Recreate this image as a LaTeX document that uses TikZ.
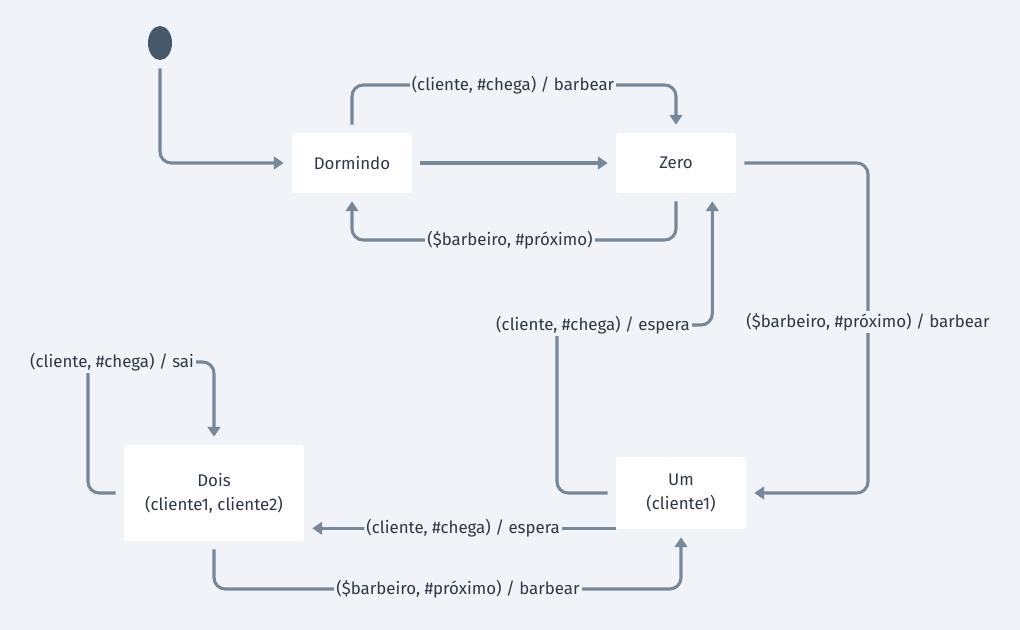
\documentclass[tikz,border=0pt]{standalone}
\usepackage{fontspec}
\setmainfont{Fira Sans}
\usetikzlibrary{shapes.geometric}
\usetikzlibrary{positioning}
\usetikzlibrary{arrows.meta}
\usepackage{xcolor}
\definecolor{bg}{HTML}{F0F4F8}
\definecolor{edge}{HTML}{778899}
\definecolor{ink}{HTML}{2D3748}
\definecolor{startfill}{HTML}{465768}

\tikzset{
  state/.style={rectangle, rounded corners=2pt, fill=white, align=center, text=ink, inner sep=0pt, font=\fontsize{12}{17}\selectfont},
  trans/.style={draw=edge, line width=2.2pt, rounded corners=8pt, shorten <=5.7pt, shorten >=5.7pt, -{Triangle[width=9pt,length=7pt]}},
  lbl/.style={fill=bg, text=ink, inner sep=1.5pt, font=\fontsize{12}{14}\selectfont}
}

\begin{document}
\begin{tikzpicture}[x=0.025cm, y=-0.025cm]
            \fill[bg] (0,0) rectangle (1020,630);
            \useasboundingbox (0,0) rectangle (1020,630);

            \node[ellipse, fill=startfill, inner sep=0pt, minimum width=0.6cm, minimum height=0.85cm] (init) at (160,43) {};
            \node[state, minimum width=3cm, minimum height=1.5cm] (dorm) at (352,163) {Dormindo};
            \node[state, minimum width=3cm, minimum height=1.5cm] (zero) at (676,163) {Zero};
            \node[state, minimum width=4.5cm, minimum height=2.4cm] (dois) at (214,493) {Dois\\(cliente1, cliente2)};
            \node[state, minimum width=3.25cm, minimum height=1.8cm] (um) at (681,493) {Um\\(cliente1)};

            % label points
            \coordinate (t1) at (513,85);
            \coordinate (t2) at (510,240);
            \coordinate (t3) at (868,322);
            \coordinate (t4) at (593,325);
            \coordinate (t5) at (112,362);
            \coordinate (t7) at (458,589);

            \draw[trans] (init.south) |- (dorm.west);
            \draw[trans] (dorm) -- (zero);
            \draw[trans] (dorm.north) |- (t1) -| (zero.north);
            \draw[trans] (zero.south) |- (t2) -| (dorm.south);
            \draw[trans] (zero.east) -| (t3) |- (um.east);
            \draw[trans] (um.west) -| (557,325) -| ([shift={(-24,0)}]zero.south east);
            \draw[trans, shorten <=0pt] ([shift={(0,-1)}]um.south west) -- node[lbl, pos=0.49] {(cliente, \#chega) / espera} ([shift={(0,-1)}]um.south west -| dois.east);
            \draw[trans] (dois.south) |- (t7) -| (um.south);
            \draw[trans] (dois.west) -| (88,362) -| (dois.north);

            \node[lbl] at (t1) {(cliente, \#chega) / barbear};
            \node[lbl] at (t2) {(\$barbeiro, \#próximo)};
            \node[lbl] at (t3) {(\$barbeiro, \#próximo) / barbear};
            \node[lbl] at (t4) {(cliente, \#chega) / espera};
            \node[lbl] at (t5) {(cliente, \#chega) / sai};
            \node[lbl] at (t7) {(\$barbeiro, \#próximo) / barbear};
        \end{tikzpicture}
\end{document}
